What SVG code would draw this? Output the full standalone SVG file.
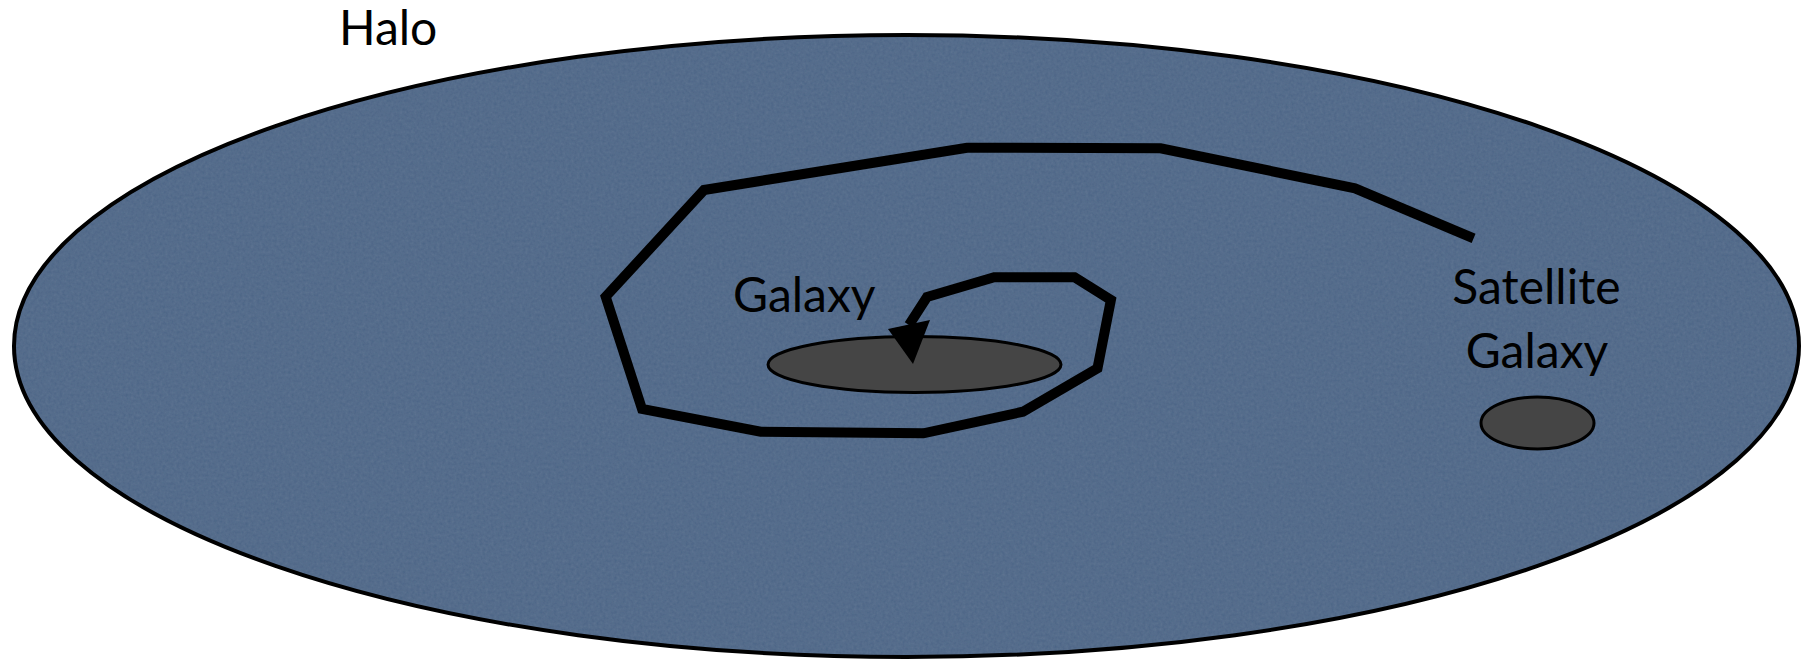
<svg xmlns="http://www.w3.org/2000/svg" width="1802" height="661" viewBox="0 0 1802 661">
  <defs>
    <filter id="grain" x="0" y="0" width="100%" height="100%">
      <feTurbulence type="fractalNoise" baseFrequency="0.35" numOctaves="2" seed="3" result="n"/>
      <feColorMatrix in="n" type="matrix" values="0 0 0 0 0.42  0 0 0 0 0.5  0 0 0 0 0.62  0 0 0 0.12 0" result="c"/>
      <feComposite in="c" in2="SourceGraphic" operator="in" result="t"/>
      <feMerge><feMergeNode in="SourceGraphic"/><feMergeNode in="t"/></feMerge>
    </filter>
    <style>
      .lbl { font-family: Lato, "Open Sans", "Liberation Sans", sans-serif; font-size: 48px; fill: #000; }
      .gal { fill: #454545; stroke: #000; stroke-width: 3; }
      .path { fill: none; stroke: #000; stroke-width: 10; stroke-linejoin: miter; stroke-miterlimit: 10; }
    </style>
  </defs>
  <rect width="1802" height="661" fill="#ffffff"/>
  <g id="halo">
    <ellipse cx="906.5" cy="346" rx="892.5" ry="311" fill="#4b6586" filter="url(#grain)"/>
    <ellipse cx="906.5" cy="346" rx="892.5" ry="311" fill="none" stroke="#000" stroke-width="4"/>
    <text class="lbl" x="339" y="45">Halo</text>
  </g>
  <g id="galaxy">
    <ellipse class="gal" cx="914.5" cy="364.5" rx="146.5" ry="28"/>
    <text class="lbl" x="733" y="312">Galaxy</text>
  </g>
  <g id="satellite">
    <ellipse class="gal" cx="1537.5" cy="423" rx="56.5" ry="26"/>
    <text class="lbl" x="1536.5" y="304" text-anchor="middle">Satellite</text>
    <text class="lbl" x="1537" y="368" text-anchor="middle">Galaxy</text>
  </g>
  <g id="connectors">
    <polyline class="path" points="1473.6,238.3 1355,188.3 1160.6,148.3 967,147.7 704,190 605.7,296.7 642,409 760.7,431.7 923.4,433.3 1022.9,411.7 1097.5,368.3 1110.9,300 1074.6,277.3 994.2,277.3 927,297 909,325"/>
    <polygon points="888,329 930,320 913,364" fill="#000"/>
  </g>
</svg>
